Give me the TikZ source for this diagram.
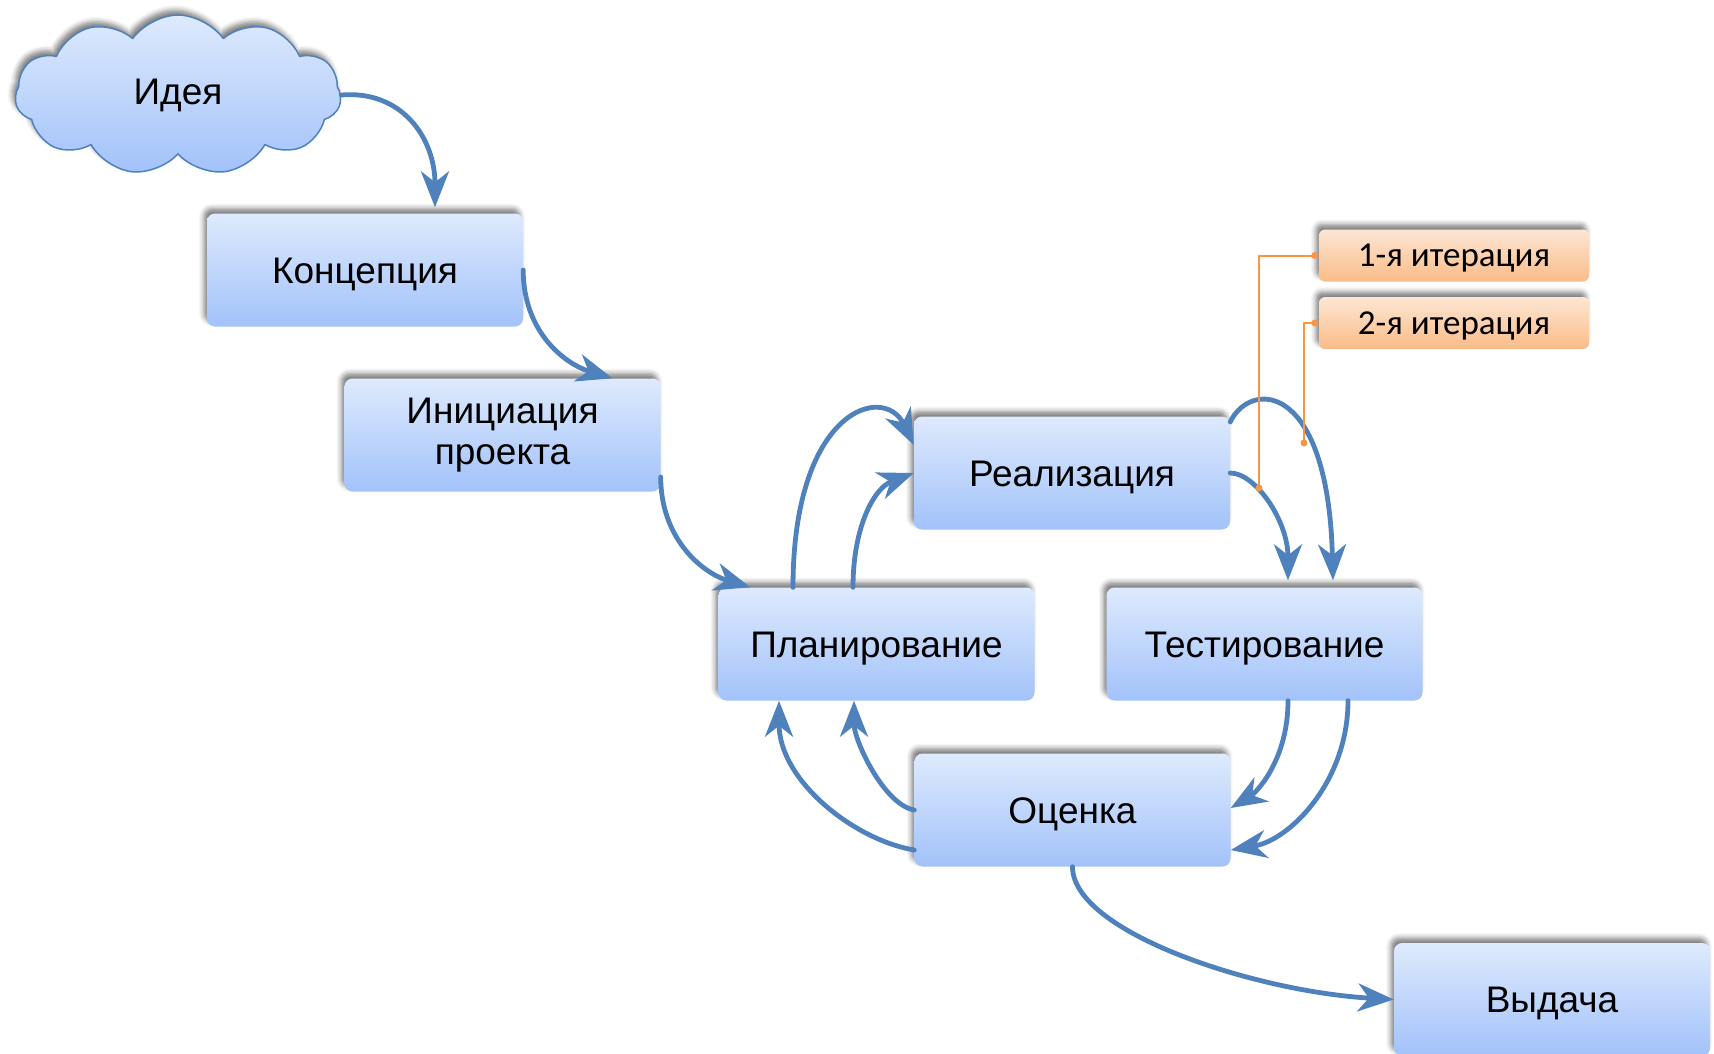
\documentclass[tikz,border=0pt]{standalone}
\usepackage{fontspec}
\setmainfont{Liberation Sans}
\newfontfamily\iterfont{Carlito}
\usetikzlibrary{arrows.meta,shapes.symbols,shadows.blur}
\definecolor{arrowblue}{RGB}{79,129,189}
\definecolor{boxtop}{RGB}{222,234,253}
\definecolor{boxbot}{RGB}{162,194,250}
\definecolor{wireorange}{RGB}{247,150,70}
\definecolor{tagtop}{RGB}{253,230,212}
\definecolor{tagbot}{RGB}{250,188,136}
\begin{document}
\begin{tikzpicture}[x=1pt, y=-1pt, font=\fontsize{37}{41}\selectfont, line join=round, line cap=round,
    >={Stealth[length=36pt,width=28pt,inset=11pt]},
    softshadow/.style={blur shadow={shadow xshift=-3pt, shadow yshift=5pt, shadow blur radius=5pt, shadow opacity=50}},
    stage/.style={rectangle, rounded corners=8pt, minimum width=316pt, minimum height=113pt, inner sep=0pt,
      align=center, top color=boxtop, bottom color=boxbot, softshadow, text height=30pt, text depth=4pt},
    iterbox/.style={rectangle, rounded corners=6pt, minimum width=270pt, minimum height=52pt, inner sep=0pt,
      font=\iterfont\fontsize{35}{38}\selectfont, top color=tagtop, bottom color=tagbot, softshadow,
      text height=24pt, text depth=2pt},
    flowarrow/.style={->, draw=arrowblue, line width=4.8pt},
    tagwire/.style={draw=wireorange, line width=2pt}]
  \useasboundingbox (0,0) rectangle (1714,1053);

  \node[cloud, cloud puffs=11, cloud puff arc=110, aspect=2.2, minimum width=326pt, minimum height=160pt,
    draw=arrowblue, line width=1.5pt, top color=boxtop, bottom color=boxbot, softshadow] (idea) at (178,95) {Идея};
  \node[stage] (concept) at (365,270) {Концепция};
  \node[stage, text height=, text depth=] (init) at (502.5,435) {Инициация\\проекта};
  \node[stage] (plan) at (876.5,644) {Планирование};
  \node[stage] (real) at (1072,473) {Реализация};
  \node[stage] (test) at (1264.5,644) {Тестирование};
  \node[stage] (eval) at (1072.5,810) {Оценка};
  \node[stage] (release) at (1552,999.5) {Выдача};
  \node[iterbox] (iter1) at (1454,255.5) {1-я итерация};
  \node[iterbox] (iter2) at (1454,323) {2-я итерация};
  \coordinate (d1) at (1259,488);
  \coordinate (d2) at (1304,443);

  \draw[flowarrow] (idea.east) .. controls +(60,-5) and +(0,-70) .. ([xshift=70pt,yshift=6pt]concept.north);
  \draw[flowarrow] (concept.east) .. controls +(0,60) and +(-50,-15) .. ([xshift=110pt]init.north);
  \draw[flowarrow] ([yshift=-42pt]init.east) .. controls +(0,60) and +(-50,-15) .. ([xshift=32pt]plan.north west);
  \draw[flowarrow] ([xshift=-83.5pt]plan.north) .. controls +(0,-178) and +(-30,-62) .. ([yshift=28pt]real.west);
  \draw[flowarrow] ([xshift=-23.5pt]plan.north) .. controls +(0,-60) and +(-40,15) .. (real.west);
  \draw[flowarrow] (real.east) .. controls +(25,0) and +(0,-60) .. ([xshift=23.5pt,yshift=7pt]test.north);
  \draw[flowarrow] ([yshift=51pt]real.east) .. controls +(20,-42) and +(-5,-200) .. ([xshift=68.5pt,yshift=7pt]test.north);
  \draw[flowarrow] ([xshift=23.5pt]test.south) .. controls +(0,60) and +(25,-15) .. ([yshift=2pt]eval.east);
  \draw[flowarrow] ([xshift=83.5pt]test.south) .. controls +(0,80) and +(60,-10) .. ([yshift=-40pt]eval.east);
  \draw[flowarrow] (eval.west) .. controls +(-30,-5) and +(0,40) .. ([xshift=-22.5pt]plan.south);
  \draw[flowarrow] ([yshift=-40pt]eval.west) .. controls +(-60,-10) and +(0,80) .. ([xshift=-97.5pt]plan.south);
  \draw[flowarrow] (eval.south) .. controls +(0,65) and +(-140,-8) .. (release.west);

  \foreach \lab/\pt in {iter1/d1,iter2/d2}{
    \draw[tagwire] ([xshift=-4pt]\lab.west) -| (\pt);
    \fill[wireorange] ([xshift=-4pt]\lab.west) circle (3.5pt) (\pt) circle (3.5pt);
  }
\end{tikzpicture}
\end{document}
